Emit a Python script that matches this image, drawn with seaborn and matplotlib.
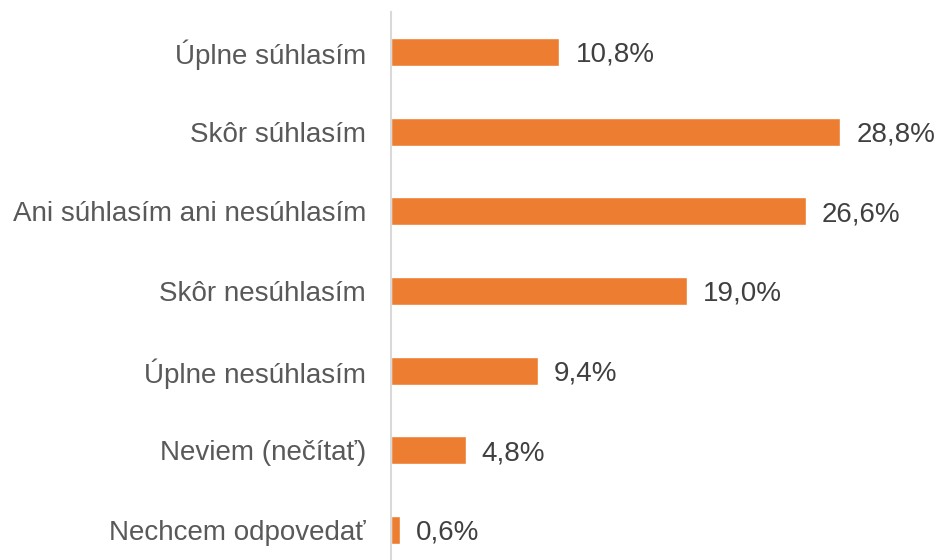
import matplotlib
matplotlib.use("Agg")
import matplotlib.pyplot as plt
import seaborn as sns
import pandas as pd

categories = ["Úplne súhlasím", "Skôr súhlasím", "Ani súhlasím ani nesúhlasím",
              "Skôr nesúhlasím", "Úplne nesúhlasím", "Neviem (nečítať)", "Nechcem odpovedať"]
values = [10.8, 28.8, 26.6, 19.0, 9.4, 4.8, 0.6]
labels = ["10,8%", "28,8%", "26,6%", "19,0%", "9,4%", "4,8%", "0,6%"]

sns.set_theme(style="white")
plt.rcParams['font.family'] = ['Liberation Sans', 'DejaVu Sans']

df = pd.DataFrame({"cat": categories, "val": values})

fig = plt.figure(figsize=(9.37, 5.6), dpi=100)
W, H = 937, 560
ax = fig.add_axes([391 / W, 0, (937 - 391) / W, (560 - 12) / H])

sns.barplot(data=df, x="val", y="cat", orient="h", color="#ED7D31",
            saturation=1, width=0.35, ax=ax)

for i, (v, lab) in enumerate(zip(values, labels)):
    ax.annotate(lab, xy=(v, i), xytext=(11.5, 0), textcoords="offset points",
                va="center_baseline", ha="left", fontsize=20, color="#404040")

ax.set_xlim(0, 35.0)
ax.set_ylim(6.377, -0.502)
ax.set_xlabel("")
ax.set_ylabel("")
ax.set_xticks([])
for s in ["top", "right", "bottom"]:
    ax.spines[s].set_visible(False)
ax.spines["left"].set_color("#D9D9D9")
ax.spines["left"].set_linewidth(1.5)
ax.tick_params(axis="y", length=0, pad=18, labelsize=20, labelcolor="#595959")

fig.savefig("out.png", dpi=100)
